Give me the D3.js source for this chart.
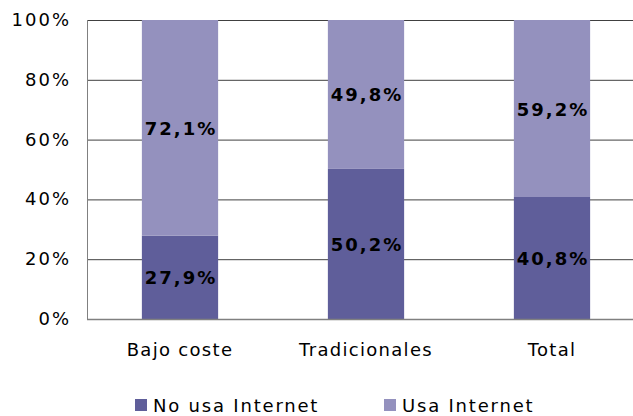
<!DOCTYPE html>
<html>
<head>
<meta charset="utf-8">
<script src="https://d3js.org/d3.v7.min.js"></script>
<style>
  body { margin: 0; background: #fff; }
  text { font-family: "DejaVu Sans", Verdana, sans-serif; fill: #000; }
</style>
</head>
<body>
<svg id="chart" width="633" height="416"></svg>
<script>
  var categories = ["Bajo coste", "Tradicionales", "Total"];
  var series = ["No usa Internet", "Usa Internet"];
  var noUsa = [27.9, 50.2, 40.8];
  var usa = [72.1, 49.8, 59.2];
  var yTicks = [0, 20, 40, 60, 80, 100];
  var colors = ["#5f5e9a", "#9491be"];

  var svg = d3.select("#chart");
  var plotLeft = 87, plotTop = 20, plotBottom = 319, plotRight = 645;

  var x = d3.scaleBand().domain(categories).range([plotLeft, plotRight]).paddingInner(0.59).paddingOuter(0.295);
  var y = d3.scaleLinear().domain([0, 100]).range([plotBottom, plotTop]);

  var rows = categories.map(function(c, i) {
    return { cat: c, "No usa Internet": noUsa[i], "Usa Internet": usa[i] };
  });
  var stacked = d3.stack().keys(series)(rows);

  // grid
  svg.append("g").selectAll("line")
    .data(yTicks.filter(function(d) { return d > 0; }))
    .enter().append("line")
    .attr("x1", plotLeft).attr("x2", 633)
    .attr("y1", function(d) { return y(d) + 0.5; })
    .attr("y2", function(d) { return y(d) + 0.5; })
    .attr("stroke", "#404040").attr("stroke-width", 1);

  // bars
  svg.append("g").selectAll("g")
    .data(stacked)
    .enter().append("g")
    .attr("fill", function(d, i) { return colors[i]; })
    .selectAll("rect")
    .data(function(d) { return d; })
    .enter().append("rect")
    .attr("x", function(d) { return x(d.data.cat); })
    .attr("width", x.bandwidth())
    .attr("y", function(d) { return y(d[1]); })
    .attr("height", function(d) { return y(d[0]) - y(d[1]); });

  // axes lines
  svg.append("line").attr("x1", plotLeft + 0.5).attr("x2", plotLeft + 0.5)
    .attr("y1", plotTop).attr("y2", plotBottom).attr("stroke", "#808080");
  svg.append("line").attr("x1", plotLeft).attr("x2", 633)
    .attr("y1", plotBottom + 0.5).attr("y2", plotBottom + 0.5).attr("stroke", "#808080").attr("stroke-width", 1.5);

  // y tick labels
  svg.append("g").selectAll("text")
    .data(yTicks)
    .enter().append("text")
    .attr("x", 71).attr("y", function(d) { return y(d) + 6; })
    .attr("text-anchor", "end")
    .attr("font-size", "18px").attr("letter-spacing", "2px")
    .text(function(d) { return d + "%"; });

  // category labels
  svg.append("g").selectAll("text")
    .data(categories)
    .enter().append("text")
    .attr("x", function(d) { return x(d) + x.bandwidth() / 2; })
    .attr("y", 356)
    .attr("text-anchor", "middle")
    .attr("font-size", "18px").attr("letter-spacing", "1.3px")
    .text(function(d) { return d; });

  // value labels
  svg.append("g").selectAll("g")
    .data(stacked)
    .enter().append("g")
    .selectAll("text")
    .data(function(d) { return d; })
    .enter().append("text")
    .attr("x", function(d) { return x(d.data.cat) + x.bandwidth() / 2 + 1; })
    .attr("y", function(d) { return y((d[0] + d[1]) / 2) + 7; })
    .attr("text-anchor", "middle")
    .attr("font-size", "18px").attr("font-weight", "bold").attr("letter-spacing", "2px")
    .text(function(d) { return (d[1] - d[0]).toFixed(1).replace(".", ",") + "%"; });

  // legend
  var legX = [135, 384];
  var leg = svg.append("g").selectAll("g")
    .data(series)
    .enter().append("g")
    .attr("transform", function(d, i) { return "translate(" + legX[i] + ",399)"; });
  leg.append("rect").attr("width", 12).attr("height", 12)
    .attr("fill", function(d, i) { return colors[i]; });
  leg.append("text").attr("x", 18).attr("y", 13)
    .attr("font-size", "18px").attr("letter-spacing", "1.8px")
    .text(function(d) { return d; });
</script>
</body>
</html>
